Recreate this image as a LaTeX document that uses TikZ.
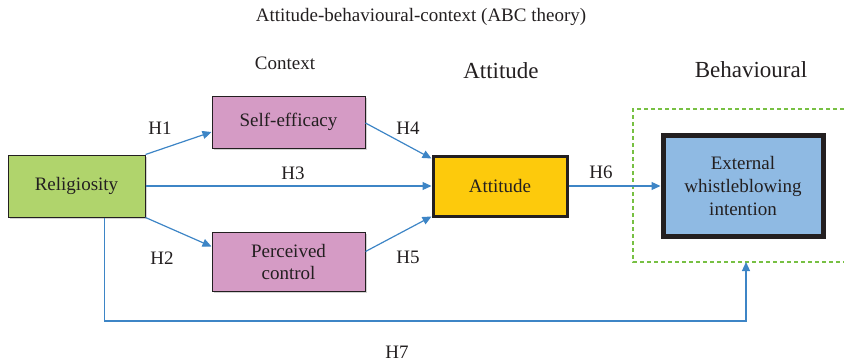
\documentclass[tikz,border=0pt]{standalone}
\usepackage{fontspec}
\setmainfont{Liberation Serif}
\usetikzlibrary{calc,shadows,arrows.meta}

\definecolor{relgreen}{HTML}{B0D46C}
\definecolor{ctxpink}{HTML}{D59BC5}
\definecolor{attyellow}{HTML}{FDCA0C}
\definecolor{intblue}{HTML}{8FBAE3}
\definecolor{framegreen}{HTML}{77C043}
\definecolor{linkblue}{HTML}{3D85C6}
\definecolor{inktext}{HTML}{231F20}

\tikzset{
  construct/.style={draw=inktext,line width=1pt,text=inktext,font=\fontsize{19}{22}\selectfont,
    align=center,inner sep=0pt,drop shadow={opacity=0.35,shadow xshift=2pt,shadow yshift=-2pt}},
  link/.style={draw=linkblue,line width=1.2pt,-{Triangle[length=9pt,width=8pt]}},
  hyp/.style={text=inktext,font=\fontsize{19}{22}\selectfont},
  header/.style={text=inktext,font=\fontsize{23}{26}\selectfont}
}

\begin{document}
\begin{tikzpicture}[x=1pt,y=-1pt]
\useasboundingbox (0,0) rectangle (844,362);

\node[text=inktext,font=\fontsize{19}{22}\selectfont] (title) at (421,17) {Attitude-behavioural-context (ABC theory)};
\node[text=inktext,font=\fontsize{19}{22}\selectfont] (ctx) at (285,63) {Context};
\node[header] (atthead) at (501,71) {Attitude};
\node[header] (behhead) at (751,70) {Behavioural};

% behavioural frame
\draw[framegreen,line width=1.2pt,dash pattern=on 4pt off 3pt] (844,109) -- (633,109) -- (633,262) -- (844,262);
\coordinate (framein) at (746,262);

% constructs
\node[construct,fill=relgreen,minimum width=137pt,minimum height=62pt] (rel) at (76.5,186) {Religiosity};
\node[construct,fill=ctxpink,minimum width=153pt,minimum height=52pt] (self) at (288.5,122) {Self-efficacy};
\node[construct,fill=ctxpink,minimum width=153pt,minimum height=59pt] (pc) at (288.5,261.5) {Perceived\\control};
\node[draw=inktext,line width=3pt,fill=attyellow,text=inktext,font=\fontsize{19}{22}\selectfont,
  minimum width=134pt,minimum height=60pt,inner sep=0pt] (att) at (500,186) {Attitude};
\node[draw=inktext,line width=5pt,fill=intblue,text=inktext,font=\fontsize{19}{23}\selectfont,align=center,
  minimum width=160pt,minimum height=101pt,inner sep=0pt] (ewi) at (743,186) {External\\whistleblowing\\intention};

% hypotheses
\draw[link] (rel.north east) -- ($(self.west)+(0,10)$);
\draw[link] (rel.south east) -- ($(pc.west)+(0,-15)$);
\draw[link] (rel.east) -- (att.west);
\draw[link] ($(self.east)+(0,1)$) -- ($(att.north west)+(0,4)$);
\draw[link] ($(pc.east)+(0,-10)$) -- ($(att.south west)+(0,-1)$);
\draw[link] (att.east) -- (ewi.west);
\draw[link] ($(rel.south)+(28,0)$) |- (105,321) -| (framein);

\node[hyp] (h1) at (160,128) {H1};
\node[hyp] (h2) at (162,258) {H2};
\node[hyp] (h3) at (293,173) {H3};
\node[hyp] (h4) at (408,128) {H4};
\node[hyp] (h5) at (408,257) {H5};
\node[hyp] (h6) at (601,172) {H6};
\node[hyp] (h7) at (397,352) {H7};
\end{tikzpicture}
\end{document}
